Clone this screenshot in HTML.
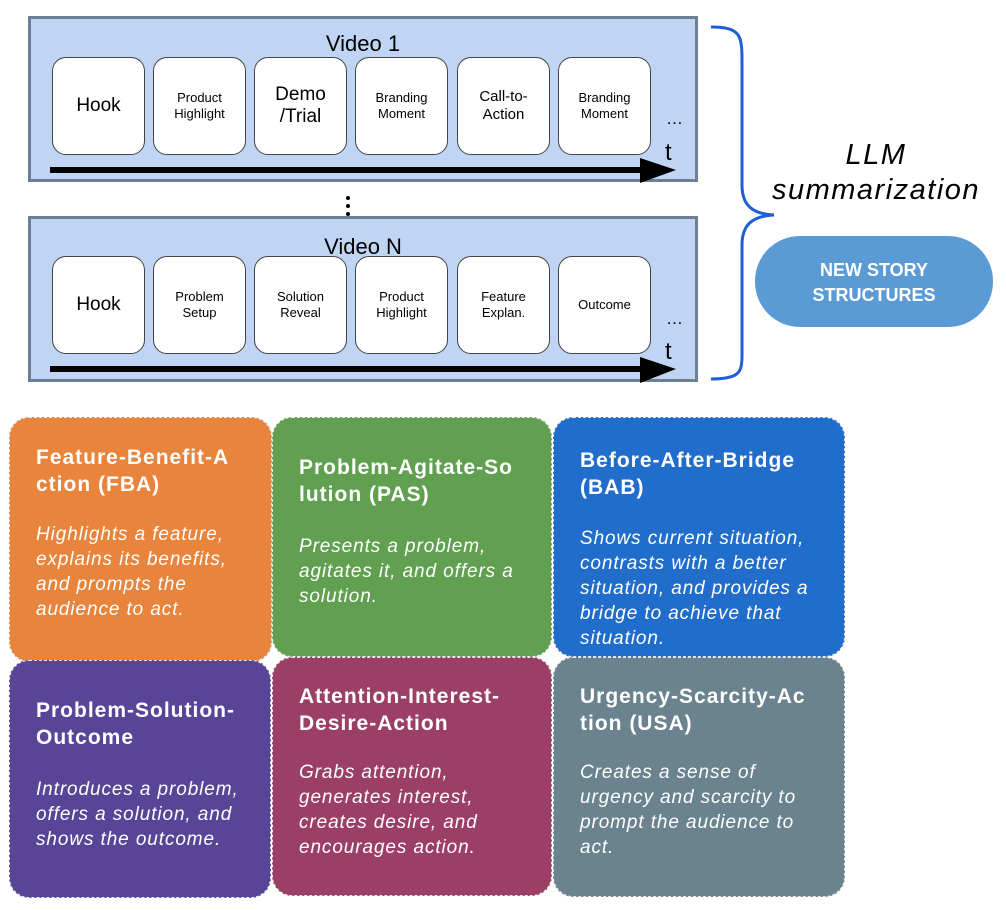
<!DOCTYPE html>
<html><head><style>
body{margin:0;width:1006px;height:910px;background:#fff;position:relative;font-family:"Liberation Sans",sans-serif;overflow:hidden}
.vid{position:absolute;left:28px;width:670px;height:166px;background:#c0d5f3;border:3px solid #6d7f94;box-sizing:border-box}
.vt{position:absolute;left:0;width:100%;text-align:center;font-size:22px;color:#000}
.n{position:absolute;width:93px;height:98px;background:#fff;border:1.5px solid #444;border-radius:14px;box-sizing:border-box;display:flex;align-items:center;justify-content:center;text-align:center;font-size:13px;line-height:16px}
.big{font-size:19px;line-height:22px}
.card{position:absolute;border:1.5px dashed #e8e8e8;border-radius:20px;box-sizing:border-box;color:#fff}
.card .h{position:absolute;left:26px;font-weight:bold;font-size:21px;letter-spacing:1px;line-height:27px;white-space:pre}
.card .b{position:absolute;left:26px;font-style:italic;font-size:19px;letter-spacing:0.9px;line-height:25px;white-space:pre}
</style></head><body>

<div class="vid" style="top:16px">
<div class="vt" style="top:12px">Video 1</div>
</div>
<div class="vid" style="top:216px">
<div class="vt" style="top:15px">Video N</div>
</div>

<div class="n big" style="left:52px;top:57px">Hook</div>
<div class="n" style="left:153px;top:57px">Product<br>Highlight</div>
<div class="n big" style="left:254px;top:57px">Demo<br>/Trial</div>
<div class="n" style="left:355px;top:57px">Branding<br>Moment</div>
<div class="n" style="left:457px;top:57px;font-size:15px;line-height:18px">Call-to-<br>Action</div>
<div class="n" style="left:558px;top:57px">Branding<br>Moment</div>

<div class="n big" style="left:52px;top:256px">Hook</div>
<div class="n" style="left:153px;top:256px">Problem<br>Setup</div>
<div class="n" style="left:254px;top:256px">Solution<br>Reveal</div>
<div class="n" style="left:355px;top:256px">Product<br>Highlight</div>
<div class="n" style="left:457px;top:256px">Feature<br>Explan.</div>
<div class="n" style="left:558px;top:256px">Outcome</div>

<svg style="position:absolute;left:0;top:0" width="1006" height="400">
<rect x="50" y="167" width="600" height="6" fill="#000"/>
<polygon points="640,158 676,170 640,183" fill="#000"/>
<rect x="50" y="366" width="600" height="6" fill="#000"/>
<polygon points="640,357 676,369 640,383" fill="#000"/>
<text x="665" y="160" font-size="24" font-family="Liberation Sans">t</text>
<text x="665" y="359" font-size="24" font-family="Liberation Sans">t</text>
<text x="666" y="124" font-size="17" font-family="Liberation Sans">…</text>
<text x="666" y="324" font-size="17" font-family="Liberation Sans">…</text>
<circle cx="348" cy="198" r="2" fill="#000"/><circle cx="348" cy="206" r="2" fill="#000"/><circle cx="348" cy="214" r="2" fill="#000"/>
<path d="M711,27 C740,27 742,35 742,60 L742,185 C742,205 752,214 774,215 C752,216 742,225 742,245 L742,355 C742,372 740,379 711,379" fill="none" stroke="#1f5fd6" stroke-width="3"/>
<text x="876" y="164" font-size="29" letter-spacing="1.5" font-style="italic" text-anchor="middle" font-family="Liberation Sans">LLM</text>
<text x="876" y="199" font-size="29" letter-spacing="1.5" font-style="italic" text-anchor="middle" font-family="Liberation Sans">summarization</text>
<rect x="755" y="236" width="238" height="91" rx="45" fill="#5b9bd5"/>
<text x="874" y="276" font-size="18" font-weight="bold" fill="#fff" text-anchor="middle" font-family="Liberation Sans">NEW STORY</text>
<text x="874" y="301" font-size="18" font-weight="bold" fill="#fff" text-anchor="middle" font-family="Liberation Sans">STRUCTURES</text>
</svg>

<div class="card" style="left:9px;top:417px;width:263px;height:245px;background:#e8843c">
<div class="h" style="top:26px">Feature-Benefit-A
ction (FBA)</div>
<div class="b" style="top:104px">Highlights a feature,
explains its benefits,
and prompts the
audience to act.</div></div>

<div class="card" style="left:272px;top:417px;width:280px;height:240px;background:#60a050">
<div class="h" style="top:36px">Problem-Agitate-So
lution (PAS)</div>
<div class="b" style="top:116px">Presents a problem,
agitates it, and offers a
solution.</div></div>

<div class="card" style="left:553px;top:417px;width:292px;height:240px;background:#216dcc">
<div class="h" style="top:29px">Before-After-Bridge
(BAB)</div>
<div class="b" style="top:108px">Shows current situation,
contrasts with a better
situation, and provides a
bridge to achieve that
situation.</div></div>

<div class="card" style="left:9px;top:660px;width:262px;height:238px;background:#594597">
<div class="h" style="top:36px">Problem-Solution-
Outcome</div>
<div class="b" style="top:116px">Introduces a problem,
offers a solution, and
shows the outcome.</div></div>

<div class="card" style="left:272px;top:657px;width:280px;height:239px;background:#9c3f66">
<div class="h" style="top:25px">Attention-Interest-
Desire-Action</div>
<div class="b" style="top:102px">Grabs attention,
generates interest,
creates desire, and
encourages action.</div></div>

<div class="card" style="left:553px;top:657px;width:292px;height:240px;background:#6a838e">
<div class="h" style="top:25px">Urgency-Scarcity-Ac
tion (USA)</div>
<div class="b" style="top:102px">Creates a sense of
urgency and scarcity to
prompt the audience to
act.</div></div>

</body></html>
